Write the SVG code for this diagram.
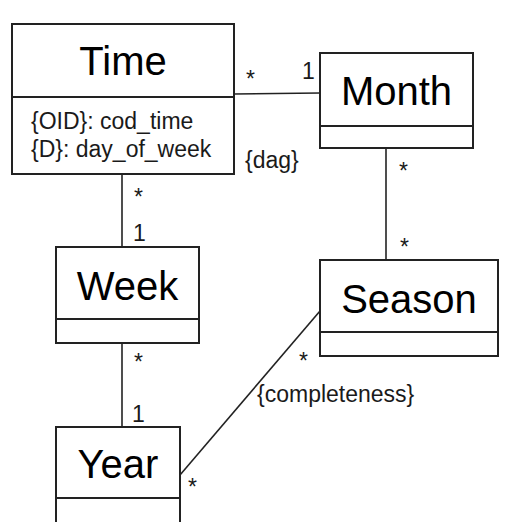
<svg xmlns="http://www.w3.org/2000/svg" width="508" height="522" viewBox="0 0 508 522">
<style>
.box{fill:#fff;stroke:#222;stroke-width:2}
.div{stroke:#222;stroke-width:2}
.ln{stroke:#222;stroke-width:1.6;fill:none}
.t{font-family:"Liberation Sans",Arial,sans-serif;font-size:40px;fill:#000;text-anchor:middle}
.s{font-family:"Liberation Sans",Arial,sans-serif;font-size:23px;fill:#1a1a1a}
</style>
<rect width="508" height="522" fill="#fff"/>
<g id="connectors">
<line class="ln" x1="234" y1="94" x2="320" y2="93"/>
<line class="ln" x1="122" y1="174" x2="122" y2="247"/>
<line class="ln" x1="386" y1="149" x2="386" y2="260"/>
<line class="ln" x1="122" y1="343" x2="122" y2="427"/>
<line class="ln" x1="320" y1="311" x2="180" y2="475"/>
<text class="s" x="246" y="87">*</text>
<text class="s" x="302" y="79">1</text>
<text class="s" x="134" y="205">*</text>
<text class="s" x="133" y="241">1</text>
<text class="s" x="399" y="179">*</text>
<text class="s" x="400" y="255">*</text>
<text class="s" x="134" y="370">*</text>
<text class="s" x="132" y="422">1</text>
<text class="s" x="299" y="369">*</text>
<text class="s" x="188" y="495">*</text>
<text class="s" x="245" y="168">{dag}</text>
<text class="s" x="257" y="402">{completeness}</text>
</g>
<g id="time">
<rect class="box" x="12" y="24" width="222" height="150"/>
<line class="div" x1="12" y1="97" x2="234" y2="97"/>
<text class="t" x="123" y="75">Time</text>
<text class="s" x="31" y="129">{OID}: cod_time</text>
<text class="s" x="31" y="157">{D}: day_of_week</text>
</g>
<g id="month">
<rect class="box" x="320" y="53" width="153" height="95"/>
<line class="div" x1="320" y1="126" x2="473" y2="126"/>
<text class="t" x="396.5" y="105">Month</text>
</g>
<g id="week">
<rect class="box" x="56" y="247" width="143" height="96"/>
<line class="div" x1="56" y1="319" x2="199" y2="319"/>
<text class="t" x="127.5" y="300">Week</text>
</g>
<g id="season">
<rect class="box" x="320" y="260" width="178" height="96"/>
<line class="div" x1="320" y1="332" x2="498" y2="332"/>
<text class="t" x="409" y="313">Season</text>
</g>
<g id="year">
<rect class="box" x="56" y="427" width="124" height="110"/>
<line class="div" x1="56" y1="498" x2="180" y2="498"/>
<text class="t" x="118" y="478">Year</text>
</g>
</svg>
